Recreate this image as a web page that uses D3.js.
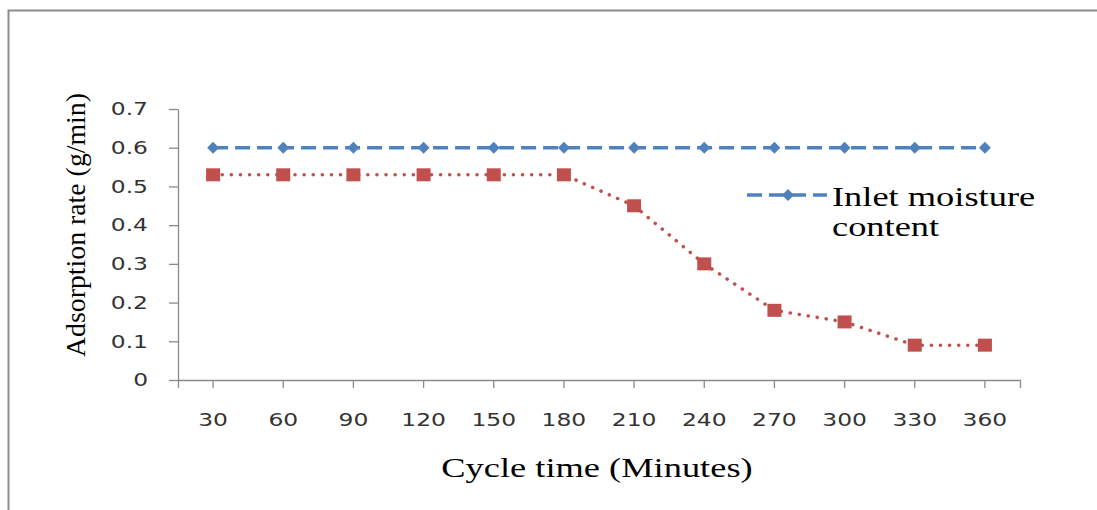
<!DOCTYPE html>
<html>
<head>
<meta charset="utf-8">
<script src="https://cdn.jsdelivr.net/npm/d3@7"></script>
<style>
  body { margin: 0; background: #fff; }
  svg { display: block; }
</style>
</head>
<body>
<div id="chart"></div>
<script>
// chart values
var cycleTimes = [30, 60, 90, 120, 150, 180, 210, 240, 270, 300, 330, 360];
var inletMoisture = [0.6, 0.6, 0.6, 0.6, 0.6, 0.6, 0.6, 0.6, 0.6, 0.6, 0.6, 0.6];
var adsorptionRate = [0.53, 0.53, 0.53, 0.53, 0.53, 0.53, 0.45, 0.30, 0.18, 0.15, 0.09, 0.09];
var yTicks = [0, 0.1, 0.2, 0.3, 0.4, 0.5, 0.6, 0.7];
var yTickLabels = ["0", "0.1", "0.2", "0.3", "0.4", "0.5", "0.6", "0.7"];
var legendLines = ["Inlet moisture", "content"];

var svgWidth = 1097;
var svgHeight = 510;

var svg = d3.select("#chart")
  .append("svg")
  .attr("width", svgWidth)
  .attr("height", svgHeight);

// frame of the picture (top and left edges only)
svg.append("path")
  .attr("d", "M8.5," + svgHeight + "V10.5H" + svgWidth)
  .attr("fill", "none")
  .attr("stroke", "#8c8c8c")
  .attr("stroke-width", 2);

// scales
var xScale = d3.scaleBand().domain(cycleTimes).range([178, 1020]);
var yScale = d3.scaleLinear().domain([0, 0.7]).range([380, 109]);
var xPos = function(d) { return xScale(d) + xScale.bandwidth() / 2; };

// axes
var xAxis = d3.axisBottom(xScale).tickSize(8).tickSizeOuter(8).tickPadding(25);
var yAxis = d3.axisLeft(yScale)
  .tickValues(yTicks)
  .tickFormat(function(d, i) { return yTickLabels[i]; })
  .tickSize(9)
  .tickSizeOuter(0)
  .tickPadding(21);

var xG = svg.append("g")
  .attr("transform", "translate(0,380)")
  .call(xAxis);
var yG = svg.append("g")
  .attr("transform", "translate(178,0)")
  .call(yAxis);

[xG, yG].forEach(function(g) {
  g.selectAll("path, line").attr("stroke", "#8a8a8a").attr("stroke-width", 1.3);
  g.selectAll("text")
    .attr("class", "stretch")
    .attr("fill", "#333")
    .style("font-family", "'DejaVu Sans', Verdana, sans-serif")
    .style("font-size", "18px");
});

// series lines
var line = d3.line()
  .x(function(d, i) { return xPos(cycleTimes[i]); })
  .y(function(d) { return yScale(d); });

svg.append("path")
  .datum(adsorptionRate)
  .attr("d", line)
  .attr("fill", "none")
  .attr("stroke", "#c0504d")
  .attr("stroke-width", 3.5)
  .attr("stroke-linecap", "round")
  .attr("stroke-dasharray", "0.1 9");

svg.append("path")
  .datum(inletMoisture)
  .attr("d", line)
  .attr("fill", "none")
  .attr("stroke", "#4f81bd")
  .attr("stroke-width", 3.5)
  .attr("stroke-dasharray", "15 7");

// markers
svg.selectAll(".sq")
  .data(adsorptionRate)
  .enter()
  .append("rect")
  .attr("class", "sq")
  .attr("x", function(d, i) { return xPos(cycleTimes[i]) - 7; })
  .attr("y", function(d) { return yScale(d) - 6.5; })
  .attr("width", 14)
  .attr("height", 13)
  .attr("fill", "#c0504d");

var diamond = d3.symbol().type(d3.symbolDiamond2).size(90);
svg.selectAll(".dm")
  .data(inletMoisture)
  .enter()
  .append("path")
  .attr("class", "dm")
  .attr("d", diamond)
  .attr("transform", function(d, i) { return "translate(" + xPos(cycleTimes[i]) + "," + yScale(d) + ")"; })
  .attr("fill", "#4f81bd");

// legend (only the blue series is shown)
var legend = svg.append("g").attr("transform", "translate(745,195)");
legend.append("line")
  .attr("x1", 0).attr("x2", 82)
  .attr("stroke", "#4f81bd")
  .attr("stroke-width", 3.5)
  .attr("stroke-dasharray", "15 7")
  .attr("stroke-dashoffset", -2);
legend.append("path")
  .attr("d", diamond)
  .attr("transform", "translate(43,0)")
  .attr("fill", "#4f81bd");
legend.selectAll("text")
  .data(legendLines)
  .enter()
  .append("text")
  .attr("class", "stretch")
  .attr("x", 87)
  .attr("y", function(d, i) { return 11 + i * 30; })
  .style("font-family", "'Liberation Serif', 'Times New Roman', serif")
  .style("font-size", "28px")
  .attr("fill", "#000")
  .text(function(d) { return d; });

// axis titles
svg.append("text")
  .attr("class", "stretch")
  .attr("x", 597)
  .attr("y", 477)
  .attr("text-anchor", "middle")
  .style("font-family", "'Liberation Serif', 'Times New Roman', serif")
  .style("font-size", "28px")
  .attr("fill", "#000")
  .text("Cycle time (Minutes)");

svg.append("text")
  .attr("transform", "translate(85,225) rotate(-90)")
  .attr("text-anchor", "middle")
  .attr("textLength", 264)
  .attr("lengthAdjust", "spacingAndGlyphs")
  .style("font-family", "'Liberation Serif', 'Times New Roman', serif")
  .style("font-size", "28px")
  .attr("fill", "#000")
  .text("Adsorption rate (g/min)");

// the source picture is stretched sideways, so widen horizontal text
svg.selectAll("text.stretch").each(function() {
  var w = this.getComputedTextLength();
  d3.select(this)
    .attr("textLength", w * 1.3)
    .attr("lengthAdjust", "spacingAndGlyphs");
});
</script>
</body>
</html>
